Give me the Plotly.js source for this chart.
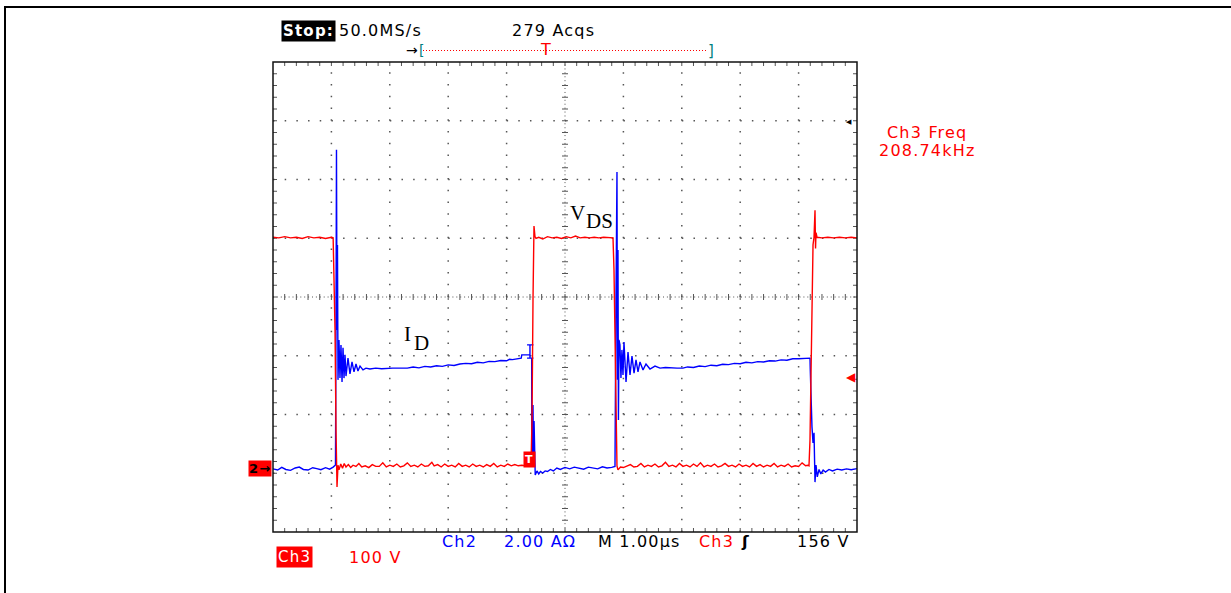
<!DOCTYPE html>
<html><head><meta charset="utf-8">
<script src="https://cdn.plot.ly/plotly-3.0.1.min.js"></script>
<style>
html,body{margin:0;padding:0;background:#fff;overflow:hidden;}
#chart{position:absolute;left:0;top:0;width:1231px;height:593px;}
#frame{position:absolute;left:4px;top:6px;width:1400px;height:800px;border-left:2px solid #000;border-top:2px solid #000;pointer-events:none;}
.annotation-text{letter-spacing:1.2px;}
text.annotation-text[style*="Serif"]{letter-spacing:0;}
</style></head><body>
<div id="chart"></div><div id="frame"></div>
<script>
// ---- data (time in µs, VDS in volts, ID in amps) ----
const vdsTime = [0.00,0.10,0.20,0.30,0.40,0.50,0.60,0.70,0.80,0.90,1.00,1.03,1.045,1.062,1.079,1.096,1.113,1.13,1.16,1.19,1.22,1.25,1.29,1.33,1.37,1.42,1.47,1.52,1.58,1.64,1.70,1.76,1.82,1.88,1.94,2.00,2.06,2.12,2.18,2.24,2.30,2.36,2.42,2.48,2.54,2.60,2.66,2.72,2.76,2.82,2.88,2.94,3.00,3.06,3.12,3.18,3.24,3.30,3.36,3.42,3.48,3.54,3.60,3.66,3.72,3.78,3.84,3.90,3.96,4.02,4.08,4.14,4.20,4.26,4.32,4.38,4.418,4.435,4.452,4.469,4.486,4.503,4.55,4.62,4.70,4.78,4.86,4.94,5.02,5.10,5.18,5.26,5.34,5.42,5.50,5.58,5.66,5.74,5.822,5.839,5.856,5.873,5.890,5.907,5.95,6.00,6.06,6.12,6.18,6.24,6.30,6.36,6.42,6.48,6.54,6.60,6.66,6.72,6.78,6.84,6.90,6.96,7.02,7.08,7.14,7.20,7.26,7.32,7.38,7.44,7.50,7.56,7.62,7.68,7.74,7.80,7.86,7.92,7.98,8.04,8.10,8.16,8.22,8.28,8.34,8.40,8.46,8.52,8.58,8.64,8.70,8.76,8.82,8.88,8.94,9.00,9.06,9.12,9.16,9.178,9.195,9.212,9.229,9.247,9.264,9.281,9.29,9.298,9.315,9.40,9.50,9.60,9.70,9.80,9.90,10.0];
const vdsVolts = [394,393,395,393,394,392,395,393,394,392,394,393,320,236,66,-31,6,-2,8,1,9,3,7,2,6,4,9,3,5,2,7,4,4,10,3,6,4,8,3,5,10,4,6,3,8,4,5,11,5,7,3,8,4,6,3,9,4,6,3,8,4,6,3,7,4,9,3,6,4,8,5,7,5,6,5,6,5,83,287,413,395,392,394,391,395,393,394,392,395,393,396,393,394,393,394,393,394,393,393,338,236,83,5,-2,3,2,4,7,3,4,9,3,6,4,8,3,5,11,4,6,3,9,4,6,3,8,4,10,3,6,4,8,3,5,9,4,6,3,8,4,6,3,9,4,7,3,6,4,9,3,6,4,8,3,5,4,10,5,6,5,49,151,287,381,394,440,375,402,394,393,394,393,394,393,394,393];

const idTime = [0.00,0.08,0.15,0.22,0.30,0.38,0.45,0.52,0.60,0.68,0.75,0.82,0.90,0.97,1.03,1.07,1.079,1.087,1.096,1.104,1.113,1.130,1.147,1.164,1.182,1.199,1.216,1.233,1.250,1.284,1.318,1.353,1.387,1.421,1.455,1.490,1.541,1.592,1.66,1.76,1.86,1.95,2.05,2.18,2.30,2.40,2.50,2.60,2.70,2.80,2.90,3.00,3.10,3.20,3.30,3.40,3.50,3.60,3.70,3.80,3.90,4.00,4.05,4.10,4.16,4.22,4.25,4.26,4.30,4.36,4.40,4.40,4.35,4.46,4.40,4.40,4.35,4.46,4.43,4.43,4.445,4.452,4.46,4.47,4.48,4.49,4.52,4.55,4.58,4.62,4.66,4.70,4.75,4.80,4.86,4.92,5.00,5.08,5.16,5.24,5.32,5.40,5.48,5.56,5.64,5.72,5.80,5.856,5.873,5.890,5.898,5.907,5.915,5.924,5.941,5.958,5.975,5.993,6.010,6.045,6.079,6.113,6.147,6.182,6.216,6.250,6.284,6.336,6.387,6.455,6.541,6.627,6.72,6.82,6.92,7.02,7.10,7.20,7.30,7.40,7.50,7.60,7.70,7.80,7.90,8.00,8.10,8.20,8.30,8.40,8.50,8.60,8.70,8.80,8.90,9.00,9.10,9.17,9.195,9.20,9.212,9.229,9.247,9.264,9.281,9.298,9.32,9.35,9.38,9.42,9.46,9.52,9.58,9.66,9.74,9.82,9.90,10.0];
const idAmps = [-0.03,-0.07,0.02,-0.05,-0.08,0.00,0.03,-0.05,-0.07,0.01,-0.02,-0.06,0.01,-0.04,0.03,0.10,5.0,10.83,4.70,7.59,3.00,4.36,3.06,4.19,2.93,4.09,3.06,3.85,3.13,3.74,3.20,3.61,3.27,3.54,3.30,3.47,3.34,3.40,3.37,3.40,3.38,3.40,3.40,3.40,3.40,3.44,3.41,3.46,3.44,3.48,3.46,3.51,3.49,3.54,3.56,3.55,3.60,3.58,3.63,3.62,3.66,3.65,3.70,3.69,3.72,3.74,3.74,3.85,3.85,3.85,3.85,4.19,4.19,4.19,4.19,3.74,3.74,3.74,3.74,0.05,0.5,2.14,0.3,1.6,0.1,-0.24,-0.10,-0.20,-0.12,-0.17,-0.10,-0.12,-0.05,-0.10,0.00,-0.05,0.02,-0.03,0.03,0.00,-0.04,0.03,0.00,-0.03,0.04,0.00,0.02,0.05,5.72,10.08,3.00,7.42,1.63,4.36,4.19,3.06,4.02,3.17,4.29,2.93,3.95,3.17,3.81,3.23,3.68,3.27,3.61,3.34,3.54,3.37,3.47,3.40,3.42,3.40,3.40,3.40,3.44,3.42,3.47,3.45,3.50,3.48,3.53,3.52,3.56,3.55,3.60,3.58,3.62,3.61,3.65,3.64,3.68,3.67,3.72,3.72,3.74,3.74,3.74,3.34,2.21,1.40,0.85,1.20,-0.48,0.10,-0.30,-0.05,-0.20,-0.07,-0.14,-0.05,-0.10,-0.04,-0.07,-0.03,-0.06,-0.02];

const headerTexts = ['Stop:', '50.0MS/s', '279 Acqs'];
const freqTexts = ['Ch3 Freq', '208.74kHz'];
const footerTexts = ['Ch2', '2.00 AΩ', 'M 1.00µs', 'Ch3', 'ʃ', '156 V', 'Ch3', '100 V'];

// ---- layout helpers (pixel -> paper) ----
const L = 273, R = 857, T = 62, B = 532;
const px = x => (x - L) / (R - L);
const py = y => (B - y) / (B - T);
const SANS = 'DejaVu Sans';
const SERIF = 'Liberation Serif';

function txt(text, x, y, color, size, xanchor, extra) {
  return Object.assign({xref:'paper', yref:'paper', x:px(x), y:py(y), text:text, showarrow:false,
    xanchor:xanchor||'left', yanchor:'middle', font:{family:SANS, size:size||16, color:color||'#000'}}, extra||{});
}

const annotations = [
  txt(headerTexts[0], 308, 31, '#fff', 15, 'center', {bgcolor:'#000', borderpad:1, font:{family:SANS, size:15, color:'#fff', weight:'bold'}}),
  txt(headerTexts[1], 337, 31, '#000', 16),
  txt(headerTexts[2], 510, 31, '#000', 16),
  txt("<span style='color:#000'>→</span>[", 416, 50, '#008080', 14, 'center'),
  txt('T', 546, 50, '#ff0000', 16, 'center'),
  txt(']', 711, 51, '#008080', 15, 'center'),
  txt(freqTexts[0], 927, 132, '#ff0000', 16, 'center'),
  txt(freqTexts[1], 927, 150, '#ff0000', 16, 'center'),
  txt(footerTexts[0], 440, 541, '#0000ff', 16),
  txt(footerTexts[1], 502, 541, '#0000ff', 16),
  txt(footerTexts[2], 596, 541, '#000', 16),
  txt(footerTexts[3], 697, 541, '#ff0000', 16),
  txt(footerTexts[4], 745, 541, '#000', 16, 'center', {font:{family:SANS, size:16, color:'#000', weight:'bold'}}),
  txt(footerTexts[5], 852, 541, '#000', 16, 'right'),
  txt(footerTexts[6], 294.5, 557, '#fff', 15, 'center', {bgcolor:'#ff0000', borderpad:1}),
  txt(footerTexts[7], 347, 557, '#ff0000', 16),
  txt('2→', 259.5, 468.5, '#000', 13, 'center', {bgcolor:'#ff0000', borderpad:0, font:{family:SANS, size:13, color:'#000', weight:'bold'}}),
  txt('T', 529, 459, '#fff', 11, 'center', {bgcolor:'#ff0000', borderpad:1, font:{family:SANS, size:11, color:'#fff', weight:'bold'}}),
  txt('◀', 851, 377, '#ff0000', 12, 'center'),
  txt('◀', 849, 122, '#000', 7, 'center'),
  txt('V', 577, 213, '#000', 21, 'center', {font:{family:SERIF, size:21, color:'#000'}}),
  txt('DS', 599, 221, '#000', 21, 'center', {font:{family:SERIF, size:21, color:'#000'}}),
  txt('I', 407.5, 334, '#000', 21, 'center', {font:{family:SERIF, size:21, color:'#000'}}),
  txt('D', 421.5, 343, '#000', 21, 'center', {font:{family:SERIF, size:21, color:'#000'}})
];

// ---- graticule shapes ----
const G = '#555';
const shapes = [];
for (let i = 1; i <= 9; i++) {
  if (i === 5) continue;
  shapes.push({type:'line', xref:'x', yref:'paper', x0:i, x1:i, y0:0, y1:1, layer:'below',
    line:{color:G, width:1.5, dash:'1.5px,10.25px'}});
}
for (let j = 1; j <= 7; j++) {
  if (j === 4) continue;
  shapes.push({type:'line', xref:'paper', yref:'paper', x0:0, x1:1, y0:j/8, y1:j/8, layer:'below',
    line:{color:G, width:1.5, dash:'1.5px,10.18px'}});
}
shapes.push({type:'line', xref:'x', yref:'paper', x0:5, x1:5, y0:0, y1:1, layer:'below', line:{color:G, width:1, dash:'1px,2.92px'}});
shapes.push({type:'line', xref:'paper', yref:'paper', x0:0, x1:1, y0:0.5, y1:0.5, layer:'below', line:{color:G, width:1, dash:'1px,2.9px'}});
for (let k = 1; k < 50; k++) {
  const x = k / 5;
  shapes.push({type:'line', xref:'x', yref:'paper', ysizemode:'pixel', yanchor:0.5, x0:x, x1:x, y0:-3, y1:3, layer:'below', line:{color:G, width:1}});
  shapes.push({type:'line', xref:'x', yref:'paper', ysizemode:'pixel', yanchor:1, x0:x, x1:x, y0:-4, y1:0, layer:'below', line:{color:G, width:1}});
  shapes.push({type:'line', xref:'x', yref:'paper', ysizemode:'pixel', yanchor:0, x0:x, x1:x, y0:0, y1:4, layer:'below', line:{color:G, width:1}});
}
for (let k = 1; k < 40; k++) {
  const y = k / 40;
  shapes.push({type:'line', xref:'x', yref:'paper', xsizemode:'pixel', xanchor:5, x0:-3, x1:3, y0:y, y1:y, layer:'below', line:{color:G, width:1}});
  shapes.push({type:'line', xref:'x', yref:'paper', xsizemode:'pixel', xanchor:0, x0:0, x1:4, y0:y, y1:y, layer:'below', line:{color:G, width:1}});
  shapes.push({type:'line', xref:'x', yref:'paper', xsizemode:'pixel', xanchor:10, x0:-4, x1:0, y0:y, y1:y, layer:'below', line:{color:G, width:1}});
}
shapes.push({type:'rect', xref:'paper', yref:'paper', x0:0, x1:1, y0:0, y1:1, layer:'above', line:{color:'#111', width:1.5}});
// record-bar dotted line at top
shapes.push({type:'line', xref:'paper', yref:'paper', x0:px(423), x1:px(707), y0:py(50.5), y1:py(50.5), line:{color:'#ff0000', width:1, dash:'1px,2px'}});

const traces = [
  {x:vdsTime, y:vdsVolts, yaxis:'y2', type:'scatter', mode:'lines', name:'VDS', line:{color:'#ff0000', width:1.4}, hoverinfo:'skip'},
  {x:idTime, y:idAmps, yaxis:'y', type:'scatter', mode:'lines', name:'ID', line:{color:'#0000ff', width:1.4}, hoverinfo:'skip'}
];

const hidden = {visible:false, showgrid:false, zeroline:false, fixedrange:true};
const layout = {
  width:1231, height:593,
  margin:{l:L, r:1231-R, t:T, b:593-B, pad:0},
  paper_bgcolor:'#fff', plot_bgcolor:'#fff',
  showlegend:false,
  xaxis:Object.assign({range:[0,10]}, hidden),
  yaxis:Object.assign({range:[-2.179, 13.821]}, hidden),
  yaxis2:Object.assign({range:[-107.7, 692.3], overlaying:'y'}, hidden),
  shapes:shapes,
  annotations:annotations
};
Plotly.newPlot('chart', traces, layout, {staticPlot:true, displayModeBar:false});
</script></body></html>
